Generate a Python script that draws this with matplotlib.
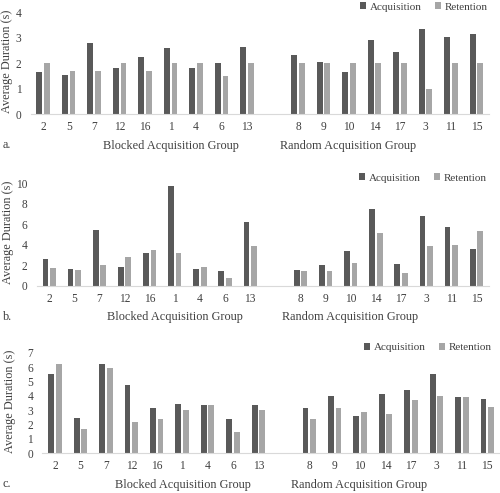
import numpy as np
import matplotlib
matplotlib.use("Agg")
import matplotlib.pyplot as plt
from matplotlib.transforms import blended_transform_factory

# Participant order on the x axis (blank slot separates the two groups)
blocked_ids = ["2", "5", "7", "12", "16", "1", "4", "6", "13"]
random_ids = ["8", "9", "10", "14", "17", "3", "11", "15"]

# Panel a
acq_a = [1.67, 1.54, 2.78, 1.83, 2.26, 2.61, 1.83, 2.0, 2.64,
         2.33, 2.05, 1.65, 2.92, 2.44, 3.35, 3.02, 3.15]
ret_a = [2.0, 1.71, 1.71, 2.0, 1.71, 2.0, 2.0, 1.49, 2.0,
         2.0, 2.0, 2.0, 2.0, 2.0, 1.0, 2.0, 2.0]

# Panel b
acq_b = [2.6, 1.66, 5.44, 1.79, 3.22, 9.74, 1.63, 1.47, 6.19,
         1.5, 2.05, 3.39, 7.46, 2.08, 6.84, 5.77, 3.58]
ret_b = [1.73, 1.56, 2.02, 2.8, 3.49, 3.19, 1.82, 0.78, 3.88,
         1.43, 1.47, 2.21, 5.11, 1.21, 3.88, 3.97, 5.37]

# Panel c
acq_c = [5.52, 2.48, 6.22, 4.73, 3.16, 3.46, 3.36, 2.41, 3.34,
         3.16, 3.97, 2.58, 4.11, 4.39, 5.52, 3.92, 3.78]
ret_c = [6.22, 1.69, 5.94, 2.18, 2.41, 3.02, 3.36, 1.48, 3.0,
         2.41, 3.13, 2.88, 2.71, 3.71, 3.99, 3.92, 3.25]

plt.rcParams["font.family"] = ["Liberation Serif", "DejaVu Serif"]
plt.rcParams["font.size"] = 8

dark = "#595959"
light = "#a6a6a6"
text_col = "#404040"

labels = blocked_ids + [""] + random_ids
x = np.array(list(range(len(blocked_ids))) +
             list(range(len(blocked_ids) + 1, len(labels))))

W, H = 500, 493
fig = plt.figure(figsize=(W / 100, H / 100), dpi=100)

# values, ymax, tick step, axes box in pixels (left, right, bottom, top),
# y label x-centre, legend right edge, panel tag
panels = [
    (acq_a, ret_a, 4, 1, (30.5, 489.2, 114.3, 12.3), 7.5, 493, "a."),
    (acq_b, ret_b, 10, 2, (36.6, 489.0, 285.7, 183.3), 7.7, 492, "b."),
    (acq_c, ret_c, 7, 1, (42.3, 500.0, 453.3, 352.7), 10.5, 497, "c."),
]

w = 0.23
off = 0.15
for acq, ret, ymax, step, (l, r, b, t), ylab_x, leg_r, tag in panels:
    ax = fig.add_axes([l / W, 1 - b / H, (r - l) / W, (b - t) / H])
    ax.bar(x - off, acq, width=w, color=dark, label="Acquisition")
    ax.bar(x + off, ret, width=w, color=light, label="Retention")
    ax.set_xlim(-0.5, len(labels) - 0.5)
    ax.set_ylim(0, ymax)
    ax.set_yticks(np.arange(0, ymax + 0.1, step))
    ax.set_xticks(range(len(labels)))
    ax.set_xticklabels(labels)
    for s in ["top", "right", "left"]:
        ax.spines[s].set_visible(False)
    ax.spines["bottom"].set_color("#d9d9d9")
    ax.tick_params(length=0, colors=text_col, labelsize=8.3)
    ax.tick_params(axis="x", pad=5)
    ax.tick_params(axis="y", pad=6.5)

    fig.text(ylab_x / W, 1 - (b + t) / 2 / H + 0.004, "Average Duration (s)",
             rotation=90, ha="center", va="center", fontsize=8.8, color=text_col)

    trans = blended_transform_factory(ax.transData, ax.transAxes)
    ax.annotate("Blocked Acquisition Group", xy=(5.02, 0), xycoords=trans,
                xytext=(0, -22.5), textcoords="offset points",
                ha="center", va="center", fontsize=8.8, color=text_col)
    ax.annotate("Random Acquisition Group", xy=(11.96, 0), xycoords=trans,
                xytext=(0, -22.5), textcoords="offset points",
                ha="center", va="center", fontsize=8.8, color=text_col)
    fig.text(2.5 / W, 1 - (b + 31) / H, tag, ha="left", va="center",
             fontsize=8.8, color=text_col)

    leg_y = 1 - (t + 5.0) / H
    ax.legend(loc="lower right", bbox_to_anchor=(leg_r / W, leg_y),
              bbox_transform=fig.transFigure, ncol=2,
              frameon=False, fontsize=8, handlelength=0.55, handleheight=0.55,
              handletextpad=0.3, columnspacing=1.2, borderpad=0,
              labelcolor=text_col)

fig.savefig("out.png", dpi=100)
